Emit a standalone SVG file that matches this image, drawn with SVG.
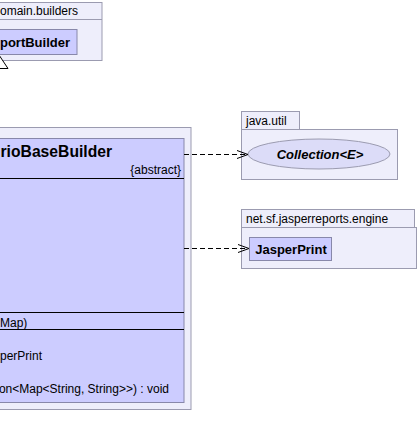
<svg xmlns="http://www.w3.org/2000/svg" width="419" height="447" viewBox="0 0 419 447">
<defs>
<style>
.pkg{fill:#eeeefb;stroke:#9b9bb0;stroke-width:1}
.cls{fill:#ccccff;stroke:#8888aa;stroke-width:1}
.sep{stroke:#000;stroke-width:1}
.t{font-family:"Liberation Sans",Arial,sans-serif;font-size:12px;fill:#000}
.b{font-weight:bold;font-size:13px}
.dep{fill:none;stroke:#000;stroke-width:1;stroke-dasharray:5,3}
.head{fill:none;stroke:#000;stroke-width:1}
</style>
</defs>
<rect width="419" height="447" fill="#fff"/>
<g id="pkg-builders">
<rect class="pkg" x="-5" y="2.5" width="107" height="58"/>
<line x1="-5" y1="19.5" x2="102" y2="19.5" stroke="#9b9bb0"/>
<text class="t" x="0" y="15">omain.builders</text>
</g>
<g id="ReportBuilder">
<rect class="cls" x="-5" y="29.5" width="82" height="25"/>
<text class="t b" x="70" y="47" text-anchor="end">portBuilder</text>
</g>
<g id="pkg-main">
<rect class="pkg" x="-5" y="127.5" width="196" height="282"/>
</g>
<g id="ScenarioBaseBuilder">
<rect class="cls" x="-5" y="138.5" width="189" height="264"/>
<text class="t" x="0.5" y="157" style="font-weight:bold;font-size:15.7px">rioBaseBuilder</text>
<text class="t" x="181" y="174" text-anchor="end">{abstract}</text>
<line class="sep" x1="-5" y1="178.5" x2="184" y2="178.5"/>
<line class="sep" x1="-5" y1="312.5" x2="184" y2="312.5"/>
<line class="sep" x1="-5" y1="329.5" x2="184" y2="329.5"/>
<text class="t" x="0" y="327">Map)</text>
<text class="t" x="0" y="360">perPrint</text>
<text class="t" x="169" y="393" text-anchor="end">on&lt;Map&lt;String, String&gt;&gt;) : void</text>
</g>
<g id="pkg-java-util">
<rect class="pkg" x="241.5" y="111.5" width="58" height="18"/>
<rect class="pkg" x="241.5" y="129.5" width="156" height="50"/>
<text class="t" x="246" y="125">java.util</text>
</g>
<g id="Collection">
<ellipse cx="319" cy="154" rx="71" ry="15" fill="#dcdcf8" stroke="#9b9bb0"/>
<text class="t b" x="320" y="159" text-anchor="middle" font-style="italic">Collection&lt;E&gt;</text>
</g>
<g id="pkg-engine">
<rect class="pkg" x="241.5" y="209.5" width="173" height="18"/>
<rect class="pkg" x="241.5" y="227.5" width="175" height="41"/>
<text class="t" x="246" y="223">net.sf.jasperreports.engine</text>
</g>
<g id="JasperPrint">
<rect class="cls" x="249.5" y="237.5" width="82" height="23"/>
<text class="t b" x="291" y="254" text-anchor="middle">JasperPrint</text>
</g>
<g id="connectors">
<line class="dep" x1="184" y1="154.5" x2="247" y2="154.5"/>
<polyline class="head" points="237,150.5 248,154.5 237,158.5"/>
<line class="dep" x1="184" y1="248.5" x2="248" y2="248.5"/>
<polyline class="head" points="238,244.5 249,248.5 238,252.5"/>
<polygon points="-1,55 8,68.5 -10,68.5" fill="#fff" stroke="#000"/>
</g>
</svg>
